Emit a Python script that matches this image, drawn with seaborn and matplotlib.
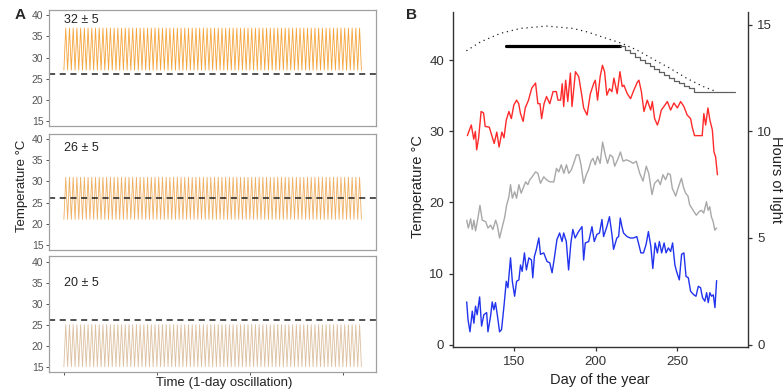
import matplotlib
matplotlib.use('Agg')
import matplotlib.pyplot as plt
import numpy as np
import pandas as pd
import seaborn as sns

# ---- panel A: daily oscillation treatments ----
treat_means = [32, 26, 20]
treat_labels = ['32 ± 5', '26 ± 5', '20 ± 5']
treat_colors = ['#f5a43a', '#efae60', '#dcbf9e']
label_y = [38.8, 37.9, 35.0]
amplitude = 5
n_days = 80
day_profile = [-1, 1]          # night minimum, midday maximum
threshold = 26

# ---- panel B: field temperatures (deg C) ----
red_day = [121.6, 124, 125.5, 126.5, 127.3, 128.5, 130, 131.5, 132.5, 135, 138, 139.6, 141,
           142.7, 144, 145.4, 147, 148.5, 150, 151.7, 153, 154, 155.7, 157, 159, 161, 163.3,
           164.7, 166, 167, 168.5, 170, 172, 174, 176, 177, 178.6, 179.6, 180.5, 181.7, 183,
           184.6, 185.6, 187.7, 189.7, 191.7, 192.7, 194.8, 196.8, 198.8, 199.8, 201.2, 202.8,
           204.2, 205.5, 206.9, 208.5, 210, 211.2, 213.2, 214.9, 216.3, 217.3, 219.4, 221.4,
           223.4, 225.5, 226.5, 228, 229.6, 231.6, 233.7, 234.7, 236.1, 237.8, 238.8, 240.2,
           241.8, 243.9, 245.9, 247.9, 250, 252, 254, 256, 258.1, 259.1, 260.5, 263.2, 265.2,
           266.2, 267.3, 268.7, 269.9, 271.4, 272.4, 273.4, 274.5]
red_temp = [29.4, 30.9, 28.9, 30.0, 27.4, 29.1, 32.8, 32.6, 30.7, 30.6, 28.3, 29.9, 27.8,
            29.9, 29.1, 31.6, 32.8, 31.8, 33.7, 34.4, 33.9, 32.6, 31.4, 33.3, 34.4, 36.1, 36.8,
            33.9, 33.9, 31.8, 33.9, 34.9, 33.9, 35.6, 35.6, 34.4, 34.4, 36.7, 33.5, 37.2, 34.2,
            38.2, 33.5, 38.4, 37.7, 34.9, 33.3, 32.3, 35.3, 36.7, 37.2, 34.4, 37.7,
            39.3, 38.4, 35.1, 36.0, 35.6, 37.5, 35.3, 38.4, 36.3, 36.5, 35.3, 34.6,
            35.8, 36.9, 37.2, 35.6, 32.8, 34.4, 33.0, 34.2, 31.8, 30.9, 31.6, 33.0,
            33.5, 34.2, 33.0, 34.0, 33.3, 34.2, 33.5, 32.3, 31.8, 30.6, 29.4, 29.4, 29.4,
            32.5, 30.9, 33.3, 31.6, 30.2, 27.1, 26.4, 23.9]

grey_day = [121.2, 122.2, 123.6, 124.6, 125.6, 126.6, 128, 129.3, 130.7, 132.8, 134.2, 135.8,
            137.2, 138.9, 139.9, 141.3, 143, 144.4, 145.6, 147, 148, 149.1, 150.5, 151.7, 153.1,
            154.5, 155.7, 157.2, 158.6, 159.8, 161.2, 163.3, 164.7, 166.3, 168.3, 170, 172,
            174.5, 176.1, 177.5, 179, 180.6, 182.2, 183.6, 185.2, 186.6, 188.3, 189.7, 191.1,
            192.7, 194.3, 195.7, 197.2, 198.4, 199.8, 201.2, 202.8, 204.3, 205.9, 207.3, 208.9,
            210.5, 211.7, 213.8, 215.2, 216.8, 218.8, 220.9, 222.9, 224.9, 227, 229, 231, 232.5,
            234.5, 236.1, 238.2, 239.6, 241.2, 242.8, 244.3, 245.7, 246.9, 249, 250.4, 252.5,
            253.9, 255.1, 256.5, 257.5, 259.6, 261.6, 263.3, 264.7, 266.1, 267.8, 268.8, 269.8,
            270.8, 271.9, 272.9, 273.9]
grey_temp = [17.5, 16.4, 17.7, 16.2, 17.5, 16.0, 17.7, 19.6, 17.5, 17.3, 16.4, 16.8,
             16.2, 17.5, 16.8, 15.0, 16.6, 17.9, 19.6, 20.8, 22.5, 20.6, 21.5, 20.6, 22.5,
             21.3, 22.0, 22.9, 22.5, 23.2, 23.6, 24.3, 24.1, 22.7, 23.6, 23.2, 22.9,
             22.9, 24.8, 24.3, 25.3, 24.1, 25.3, 24.1, 24.6, 25.5, 26.7, 26.7, 25.3,
             22.7, 23.9, 24.6, 25.8, 26.2, 25.3, 26.5, 25.5, 28.5, 26.7, 25.5, 26.7,
             26.4, 25.1, 26.2, 27.1, 25.8, 26.0, 25.8, 25.5, 25.8, 24.1, 23.0, 25.1, 24.1,
             21.1, 22.7, 23.2, 22.5, 23.9, 23.2, 24.1, 23.9, 22.0, 20.9, 22.0, 23.4,
             22.0, 21.3, 20.9, 19.7, 18.9, 18.2, 18.7, 18.9, 18.5, 20.1, 18.9, 19.4,
             18.0, 17.3, 16.1, 16.4]

blue_day = [121.2, 122, 123.2, 124.6, 125.6, 126.6, 127.6, 129.1, 130.3, 131.7, 133.4, 134.2,
            135.8, 136.8, 137.8, 138.8, 139.9, 141.3, 142.5, 143.9, 145.4, 146.4, 148, 149.1,
            150.5, 151.7, 153.1, 154.1, 155.1, 156.5, 157.7, 159.2, 160.8, 161.6, 162.6, 163.8,
            165.3, 166.3, 168.3, 170.3, 172, 173.4, 174.8, 176.4, 178, 179.5, 180.5, 182.1,
            183.5, 184.9, 186.1, 187.5, 189.6, 191.7, 192.7, 193.7, 195.8, 197.8, 199.2, 200.8,
            202.4, 203.9, 204.9, 206.9, 208.5, 210, 211, 213, 214.1, 215.1, 216.1, 217.1, 219.2,
            221.2, 223.2, 225.2, 226.2, 227.7, 229.3, 230.9, 232.3, 233.8, 235, 236.4, 237.8,
            239, 240.4, 241.9, 243.1, 244.5, 245.9, 247.1, 248.5, 249.5, 251.2, 252.6, 254,
            255.3, 256.7, 258.1, 260.1, 261.4, 262.8, 264.2, 265.4, 266.8, 267.9, 268.9, 269.9,
            270.9, 272, 273, 274]
blue_temp = [6.0, 3.5, 1.8, 4.7, 3.0, 5.4, 4.2, 6.7, 2.6, 4.2, 4.5, 1.8,
             4.0, 6.0, 4.9, 5.9, 4.2, 1.8, 2.1, 5.2, 8.9, 8.0, 12.2, 8.9,
             6.8, 8.9, 9.1, 11.2, 10.3, 12.9, 10.5, 12.2, 11.9, 9.4, 12.4, 13.4,
             15.0, 12.7, 12.9, 11.7, 11.5, 10.1, 12.2, 14.8, 15.7, 14.5, 15.7, 14.5,
             10.5, 14.3, 16.2, 15.0, 15.9, 16.6, 11.9, 14.3, 14.5, 16.6, 14.5, 15.5,
             15.7, 17.6, 15.2, 16.6, 18.0, 15.5, 13.4, 15.0, 15.2, 17.8, 16.6, 15.7, 15.2,
             15.0, 15.0, 15.2, 14.3, 12.9, 12.9, 14.1, 15.9, 13.8, 10.7, 14.3, 12.9,
             14.5, 12.9, 14.3, 12.9, 13.6, 13.1, 14.3, 11.2, 10.3, 9.1, 12.7, 12.9,
             9.6, 9.4, 7.5, 7.0, 6.8, 8.2, 8.0, 6.6, 6.1, 7.3, 5.9, 7.3,
             6.8, 7.0, 5.2, 9.0]

# ---- panel B: photoperiod (hours of light) ----
natural_day = [121, 129.7, 141.9, 154, 170, 186, 194.7, 204.9, 216, 225.2, 235.4, 245.5,
               255.7, 265.9, 274]
natural_hours = [13.78, 14.2, 14.6, 14.83, 14.94, 14.83, 14.67, 14.41, 14.13, 13.82, 13.38,
                 12.96, 12.49, 12.1, 11.86]
constant_day = [145, 215]
constant_hours = [14.0, 14.0]
step_day = [215, 218, 221, 224, 227, 230, 233, 236, 239, 242, 245, 248, 251, 254, 257, 260,
            285]
step_hours = [14.0, 13.84, 13.66, 13.49, 13.33, 13.2, 13.05, 12.91, 12.77, 12.63, 12.49,
              12.37, 12.25, 12.14, 12.02, 11.86, 11.86]

sns.set_theme(style='ticks')
plt.rcParams['font.family'] = ['Liberation Sans', 'DejaVu Sans']

fig = plt.figure(figsize=(7.83, 3.91), dpi=100)

# ---------- panel A ----------
a_bottoms = [0.678, 0.361, 0.0486]
t = np.arange(0, n_days + 0.25, 0.5)
wave = np.resize(np.array(day_profile, dtype=float), len(t))
for i in range(3):
    ax = fig.add_axes([0.0626, a_bottoms[i], 0.418, 0.296])
    osc = pd.DataFrame({'time': t, 'temp': treat_means[i] + amplitude * wave})
    sns.lineplot(data=osc, x='time', y='temp', ax=ax, color=treat_colors[i],
                 linewidth=0.6, estimator=None)
    ax.axhline(threshold, color='#222222', linestyle=(0, (4, 3)), linewidth=1.1)
    ax.text(0, label_y[i], treat_labels[i], fontsize=9, color='#222222', va='center')
    ax.set_xlim(-4, 84)
    ax.set_ylim(13.75, 41.25)
    ax.set_yticks([15, 20, 25, 30, 35, 40])
    ax.set_xlabel('')
    ax.set_ylabel('')
    for s in ax.spines.values():
        s.set_color('#a0a0a0')
        s.set_linewidth(0.9)
    ax.tick_params(axis='y', labelsize=7.5, colors='#555555', length=2.5, width=0.7, pad=1.5)
    if i < 2:
        ax.set_xticks([])
    else:
        ax.set_xticks([0, 25, 50, 75])
        ax.set_xticklabels([])
        ax.tick_params(axis='x', colors='#555555', length=2.5, width=0.7)

fig.text(0.0277, 0.524, 'Temperature °C', rotation=90, ha='center', va='center',
         fontsize=9.5, color='#222222')
fig.text(0.286, 0.021, 'Time (1-day oscillation)', ha='center', va='center',
         fontsize=9.5, color='#222222')
fig.text(0.0255, 0.962, 'A', ha='center', va='center', fontsize=11, fontweight='bold')
fig.text(0.526, 0.962, 'B', ha='center', va='center', fontsize=11, fontweight='bold')

# ---------- panel B ----------
axB = fig.add_axes([0.5785, 0.1133, 0.3768, 0.856])
for d, v, c in [(red_day, red_temp, '#ff2a2a'), (grey_day, grey_temp, '#a8a8a8'),
                (blue_day, blue_temp, '#2233ee')]:
    sns.lineplot(x=d, y=v, ax=axB, color=c, linewidth=1.0, estimator=None)
axB.set_xlim(112.8, 293.2)
axB.set_ylim(-0.3, 46.8)
axB.set_xticks([150, 200, 250])
axB.set_yticks([0, 10, 20, 30, 40])

axR = axB.twinx()
sns.lineplot(x=natural_day, y=natural_hours, ax=axR, color='#222222',
             linestyle=(0, (1, 3)), linewidth=0.9, estimator=None)
sns.lineplot(x=constant_day, y=constant_hours, ax=axR, color='black', linewidth=2.3,
             estimator=None)
sns.lineplot(x=step_day, y=step_hours, ax=axR, color='#606060', linewidth=0.9,
             drawstyle='steps-post', estimator=None)
axR.set_ylim(-0.1, 15.6)
axR.set_yticks([0, 5, 10, 15])

for a in (axB, axR):
    a.spines['top'].set_visible(False)
    a.set_xlabel('')
    a.set_ylabel('')
    for s in a.spines.values():
        s.set_color('#333333')
        s.set_linewidth(1.0)
    a.tick_params(labelsize=9.5, colors='#333333', length=3, width=0.9)
axB.spines['right'].set_visible(False)
axR.spines['left'].set_visible(False)
axR.spines['bottom'].set_visible(False)

fig.text(0.534, 0.522, 'Temperature °C', rotation=90, ha='center', va='center',
         fontsize=10.5, color='#222222')
fig.text(0.991, 0.542, 'Hours of light', rotation=-90, ha='center', va='center',
         fontsize=10.5, color='#222222')
fig.text(0.766, 0.028, 'Day of the year', ha='center', va='center',
         fontsize=10.5, color='#222222')

fig.savefig('out.png', dpi=100)
